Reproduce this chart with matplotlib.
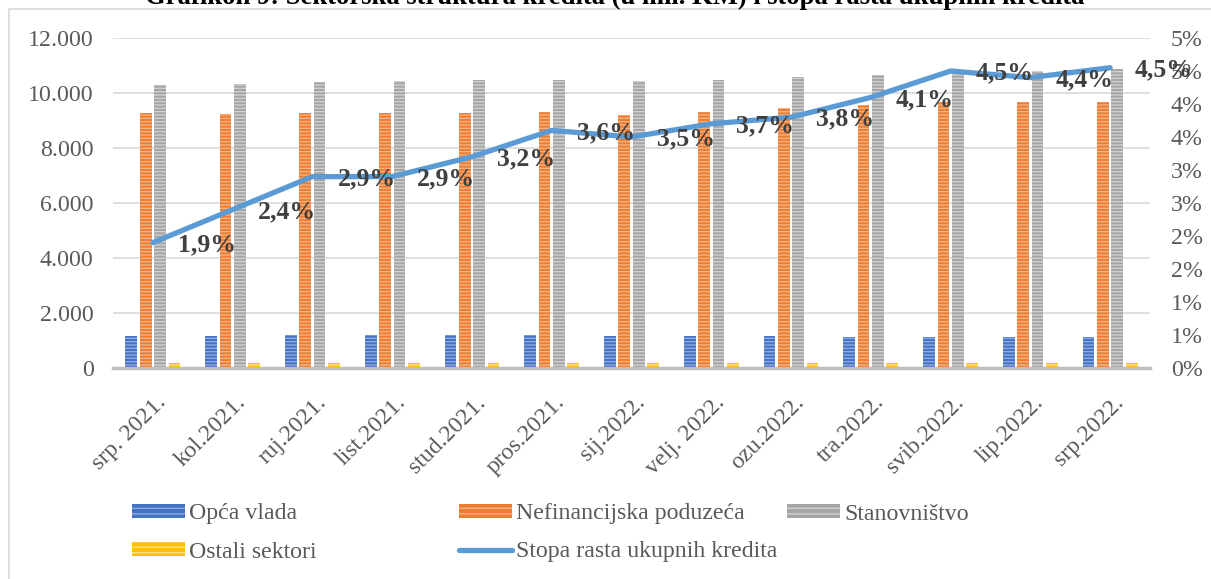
import matplotlib
matplotlib.use("Agg")
import matplotlib.pyplot as plt
import matplotlib.transforms as mtransforms
from matplotlib.patches import Rectangle
from matplotlib.lines import Line2D
import numpy as np

# ---- data ----
categories = ['srp. 2021.', 'kol.2021.', 'ruj.2021.', 'list.2021.', 'stud.2021.',
              'pros.2021.', 'sij.2022.', 'velj. 2022.', 'ozu.2022.', 'tra.2022.',
              'svib.2022.', 'lip.2022.', 'srp.2022.']
opca_vlada = [1160, 1160, 1200, 1190, 1190, 1200, 1170, 1160, 1150, 1130, 1130, 1120, 1110]
nefinancijska = [9270, 9240, 9270, 9260, 9280, 9300, 9200, 9300, 9450, 9560, 9670, 9690, 9690]
stanovnistvo = [10290, 10330, 10400, 10440, 10470, 10470, 10440, 10470, 10580, 10650, 10760, 10790, 10860]
ostali = [170, 170, 170, 170, 170, 170, 170, 170, 170, 170, 170, 170, 170]
stopa_rasta = [1.9, 2.4, 2.9, 2.9, 3.2, 3.6, 3.5, 3.7, 3.8, 4.1, 4.5, 4.4, 4.55]
stopa_labels = ['1,9%', '2,4%', '2,9%', '2,9%', '3,2%', '3,6%', '3,5%', '3,7%',
                '3,8%', '4,1%', '4,5%', '4,4%', '4,5%']
left_ticks = [0, 2000, 4000, 6000, 8000, 10000, 12000]
left_tick_labels = ['0', '2.000', '4.000', '6.000', '8.000', '10.000', '12.000']
right_ticks = [0, 0.5, 1.0, 1.5, 2.0, 2.5, 3.0, 3.5, 4.0, 4.5, 5.0]
right_tick_labels = ['0%', '1%', '1%', '2%', '2%', '3%', '3%', '4%', '4%', '5%', '5%']
series_names = ['Opća vlada', 'Nefinancijska poduzeća', 'Stanovništvo', 'Ostali sektori']
line_name = 'Stopa rasta ukupnih kredita'
title = 'Grafikon 9: Sektorska struktura kredita (u mil. KM) i stopa rasta ukupnih kredita'

# ---- style ----
plt.rcParams['font.family'] = ['Liberation Serif', 'DejaVu Serif']
plt.rcParams['hatch.linewidth'] = 1.0
W, H, DPI = 1211, 579, 100
fig = plt.figure(figsize=(W / DPI, H / DPI), dpi=DPI)

face = ['#4472c4', '#ed7d31', '#a5a5a5', '#ffc000']
stripe = ['#8faadc', '#f4b183', '#d0d0d0', '#ffe08a']
line_col = '#5b9bd5'
txt_col = '#595959'
FS = 17.2

ax = fig.add_axes([113 / W, 1 - 368 / H, (1150 - 113) / W, (368 - 38) / H])
x = np.arange(len(categories))
slot = 0.18
bw = 0.147
series = [opca_vlada, nefinancijska, stanovnistvo, ostali]
for i, vals in enumerate(series):
    off = (i - 1.5) * slot
    ax.bar(x + off, vals, width=bw, color=face[i], edgecolor=stripe[i],
           linewidth=0, hatch='-----', zorder=2)

ax.set_xlim(-0.5, len(categories) - 0.5)
ax.set_ylim(0, 12000)
ax.set_yticks(left_ticks)
ax.set_yticklabels(left_tick_labels)
ax.set_xticks(x)
ax.set_xticklabels(categories, rotation=45, ha='right', va='top',
                   rotation_mode='anchor')
ax.tick_params(axis='both', length=0, labelsize=FS, labelcolor=txt_col)
ax.tick_params(axis='x', pad=10)
ax.tick_params(axis='y', pad=14)
shift = mtransforms.ScaledTranslation(3 / DPI, -10 / DPI, fig.dpi_scale_trans)
for lbl in ax.get_xticklabels():
    lbl.set_transform(lbl.get_transform() + shift)
ax.grid(axis='y', color='#d9d9d9', linewidth=1.2, zorder=0)
ax.set_axisbelow(True)
for s in ['top', 'right', 'left']:
    ax.spines[s].set_visible(False)
ax.spines['bottom'].set_color('#bfbfbf')
ax.spines['bottom'].set_linewidth(2.5)
ax.spines['bottom'].set_zorder(3)

ax2 = ax.twinx()
ax2.plot(x, stopa_rasta, color=line_col, linewidth=3.8, solid_capstyle='round', zorder=4)
ax2.set_ylim(0, 5.0)
ax2.set_yticks(right_ticks)
ax2.set_yticklabels(right_tick_labels)
ax2.tick_params(axis='y', length=0, labelsize=FS, labelcolor=txt_col, pad=15)
for s in ['top', 'right', 'left', 'bottom']:
    ax2.spines[s].set_visible(False)
for xi, yi, lab in zip(x, stopa_rasta, stopa_labels):
    ax2.annotate(lab, (xi, yi), xytext=(18, -1.5), textcoords='offset points',
                 ha='left', va='center', fontsize=18.5, fontweight='bold',
                 color='#404040', zorder=5)

# title (cut off at top)
fig.text(615 / W, 1 - 4 / H, title, ha='center', va='baseline', fontsize=19.2,
         fontweight='bold', color='black')

# chart frame
fig.add_artist(Rectangle((9 / W, -0.1), 1.2, 1 - 9 / H + 0.1, transform=fig.transFigure,
                         fill=False, edgecolor='#d9d9d9', linewidth=1.2))

# legend (manual positions)
def bar_handle(i):
    return Rectangle((0, 0), 1, 1, facecolor=face[i], edgecolor=stripe[i],
                     linewidth=0, hatch='---')

entries = [
    (bar_handle(0), series_names[0], 132, 514),
    (bar_handle(1), series_names[1], 459, 514),
    (bar_handle(2), series_names[2], 787, 514),
    (bar_handle(3), series_names[3], 132, 552),
    (Line2D([0], [0], color=line_col, linewidth=3.8, solid_capstyle='round'), line_name, 459, 552),
]
for h, lab, px, py in entries:
    leg = fig.legend([h], [lab], loc='center left', bbox_to_anchor=(px / W, 1 - py / H),
                     frameon=False, fontsize=FS, handlelength=2.2, handleheight=0.55,
                     handletextpad=0.2, borderpad=0, borderaxespad=0)
    for t in leg.get_texts():
        t.set_color(txt_col)

fig.savefig('out.png', dpi=DPI)
